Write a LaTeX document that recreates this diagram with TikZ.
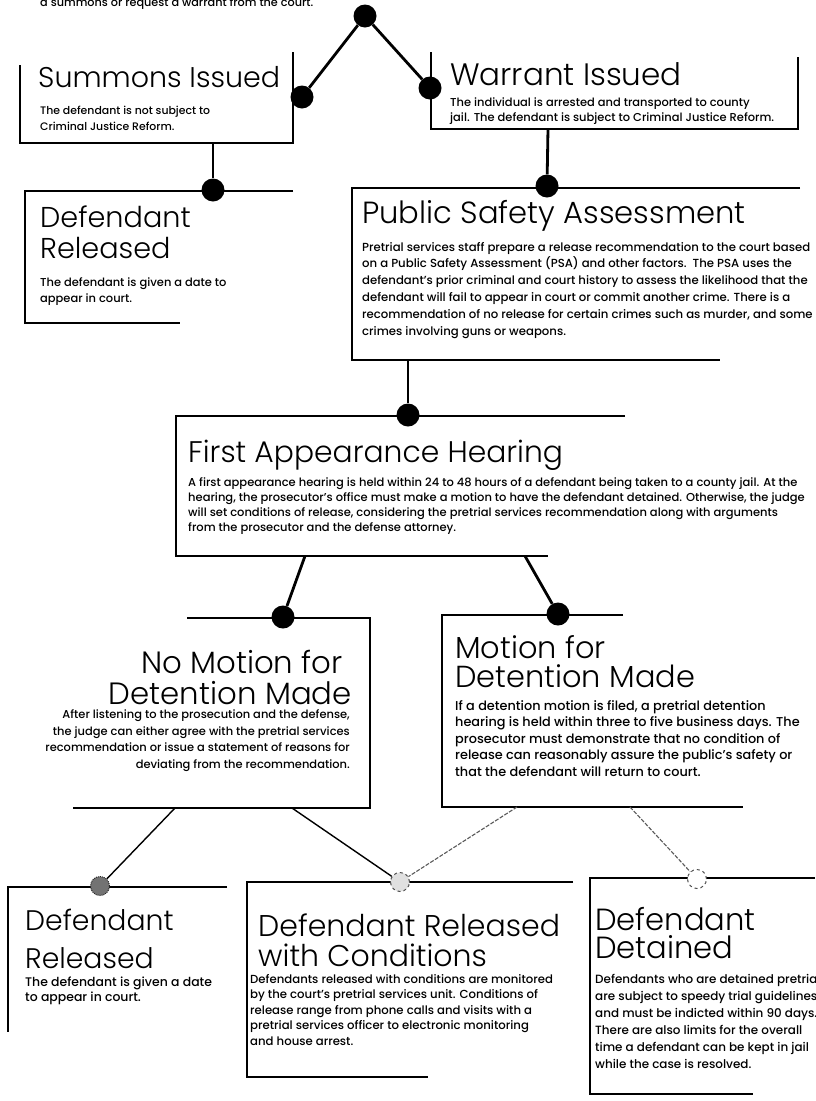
\documentclass[tikz,border=0pt]{standalone}
\usepackage{fontspec}
\IfFontExistsTF{Poppins Medium}{\setmainfont{Poppins Medium}}{\setmainfont{Poppins}}
\IfFontExistsTF{Poppins Light}{\newfontfamily\headfont{Poppins Light}}{\newfontfamily\headfont{Poppins}}

\begin{document}
\begin{tikzpicture}[x=1pt, y=-1pt,
  dot/.style={circle, fill=black, inner sep=0pt, minimum size=23pt},
  gdot/.style={circle, fill=black!55, draw=black!85, densely dotted, line width=1pt, inner sep=0pt, minimum size=19pt},
  odot/.style={circle, draw=black!70, dashed, line width=1pt, fill=white, inner sep=0pt, minimum size=19pt},
  frame/.style={line width=2.6pt},
  link/.style={line width=2.8pt},
  thinlink/.style={line width=1.4pt},
  faintlink/.style={line width=1.1pt, black!65, dash pattern=on 4pt off 1.5pt},
  head/.style={anchor=base west, inner sep=0pt, align=left, font=\headfont\fontsize{30}{31}\selectfont},
  txt/.style={anchor=base west, inner sep=0pt, align=left}]
\useasboundingbox (0,0) rectangle (815,1101);
\clip (0,0) rectangle (815,1101);

\node [txt, font=\fontsize{11.25}{17}\selectfont] (intro) at (40,6) {a summons or request a warrant from the court.};

\draw [frame] (20,65) |- (293,143) -- (293,52);
\draw [frame] (293,191) -| (25,323) -- (180,323);
\draw [frame] (431,52) |- (798,129) -- (798,57);
\draw [frame] (800,188) -| (352,360) -- (720,360);
\draw [frame] (625,416) -| (176,556) -- (548,556);
\draw [frame] (187,618) -| (370,808) -- (73,808);
\draw [frame] (623,615) -| (442,807) -- (743,807);
\draw [frame] (227,887) -| (8,1032);
\draw [frame] (573,882) -| (247,1077) -- (428,1077);
\draw [frame] (815,878) -| (590,1094) -- (753,1094);

\node [head, font=\headfont\fontsize{28.5}{31}\selectfont] (sumT) at (38,87) {Summons Issued};
\node [txt, font=\fontsize{10.9}{16}\selectfont] (sumX) at (40,130) {The defendant is not subject to\\Criminal Justice Reform.};

\node [head, font=\headfont\fontsize{31}{31}\selectfont] (warT) at (450,85) {Warrant Issued};
\node [txt, font=\fontsize{11.45}{15}\selectfont] (warX) at (450,121) {The individual is arrested and transported to county\\jail. The defendant is subject to Criminal Justice Reform.};

\node [head, font=\headfont\fontsize{28.7}{31}\selectfont] (relT) at (40,258) {Defendant\\Released};
\node [txt, font=\fontsize{11.45}{16}\selectfont] (relX) at (40,302) {The defendant is given a date to\\appear in court.};

\node [head, font=\headfont\fontsize{30.6}{31}\selectfont] (psaT) at (362,223) {Public Safety Assessment};
\node [txt, font=\fontsize{11.7}{16.8}\selectfont] (psaX) at (362,335) {Pretrial services staff prepare a release recommendation to the court based\\on a Public Safety Assessment (PSA) and other factors.\ \ The PSA uses the\\defendant's prior criminal and court history to assess the likelihood that the\\defendant will fail to appear in court or commit another crime. There is a\\recommendation of no release for certain crimes such as murder, and some\\crimes involving guns or weapons.};

\node [head, font=\headfont\fontsize{29.8}{31}\selectfont] (fahT) at (188,462) {First Appearance Hearing};
\node [txt, font=\fontsize{11.5}{15}\selectfont] (fahX) at (188,531) {A first appearance hearing is held within 24 to 48 hours of a defendant being taken to a county jail. At the\\hearing, the prosecutor’s office must make a motion to have the defendant detained. Otherwise, the judge\\will set conditions of release, considering the pretrial services recommendation along with arguments\\from the prosecutor and the defense attorney.};

\node [head, anchor=base east, align=right, font=\headfont\fontsize{30.8}{31}\selectfont] (nomT) at (352,704) {No Motion for\kern9pt\\Detention Made};
\node [txt, anchor=base east, align=right, font=\fontsize{11.45}{16.5}\selectfont] (nomX) at (350,768) {After listening to the prosecution and the defense,\\the judge can either agree with the pretrial services\\recommendation or issue a statement of reasons for\\deviating from the recommendation.};

\node [head, font=\headfont\fontsize{30.4}{29}\selectfont] (motT) at (455,687) {Motion for\\Detention Made};
\node [txt, font=\fontsize{12.85}{16.5}\selectfont] (motX) at (455,776) {If a detention motion is filed, a pretrial detention\\hearing is held within three to five business days. The\\prosecutor must demonstrate that no condition of\\release can reasonably assure the public’s safety or\\that the defendant will return to court.};

\node [head, font=\headfont\fontsize{28.3}{38}\selectfont] (relbT) at (25,968) {Defendant\\Released};
\node [txt, font=\fontsize{12.45}{15}\selectfont] (relbX) at (25,1001) {The defendant is given a date\\to appear in court.};

\node [head, font=\headfont\fontsize{30}{30}\selectfont] (condT) at (258,966) {Defendant Released\\with Conditions};
\node [txt, font=\fontsize{11.7}{15.5}\selectfont] (condX) at (250,1045) {Defendants released with conditions are monitored\\by the court’s pretrial services unit. Conditions of\\release range from phone calls and visits with a\\pretrial services officer to electronic monitoring\\and house arrest.};

\node [head, font=\headfont\fontsize{30.6}{28}\selectfont] (detT) at (595,958) {Defendant\\Detained};
\node [txt, font=\fontsize{11.95}{17}\selectfont] (detX) at (595,1068) {Defendants who are detained pretrial\\are subject to speedy trial guidelines\\and must be indicted within 90 days.\\There are also limits for the overall\\time a defendant can be kept in jail\\while the case is resolved.};

\node [dot] (top) at (365,16) {};
\node [dot] (sum) at (302,97) {};
\node [dot] (war) at (430,88) {};
\node [dot] (rel) at (213,190) {};
\node [dot] (psa) at (547,186) {};
\node [dot] (fah) at (408,415) {};
\node [dot] (nom) at (283,617) {};
\node [dot] (mot) at (558,614) {};
\node [gdot] (relb) at (100,886) {};
\node [odot, fill=black!12] (cond) at (400,882) {};
\node [odot] (det) at (697,879) {};

\coordinate (sumB) at (213,143);
\coordinate (warB) at (548,129);
\coordinate (psaB) at (408,360);
\coordinate (fahL) at (305,556);
\coordinate (fahR) at (525,556);
\coordinate (nomL) at (175,808);
\coordinate (nomR) at (292,808);
\coordinate (motL) at (517,807);
\coordinate (motR) at (630,807);

\draw [link] (top) -- (sum);
\draw [link] (top) -- (war);
\draw [link] (sumB) -- (rel);
\draw [link] (warB) -- (psa);
\draw [link] (psaB) -- (fah);
\draw [link] (fahL) -- (nom);
\draw [link] (fahR) -- (mot);
\draw [thinlink] (nomL) -- (relb);
\draw [thinlink] (nomR) -- (cond);
\draw [faintlink] (motL) -- (cond);
\draw [faintlink] (motR) -- (det);
\end{tikzpicture}
\end{document}
